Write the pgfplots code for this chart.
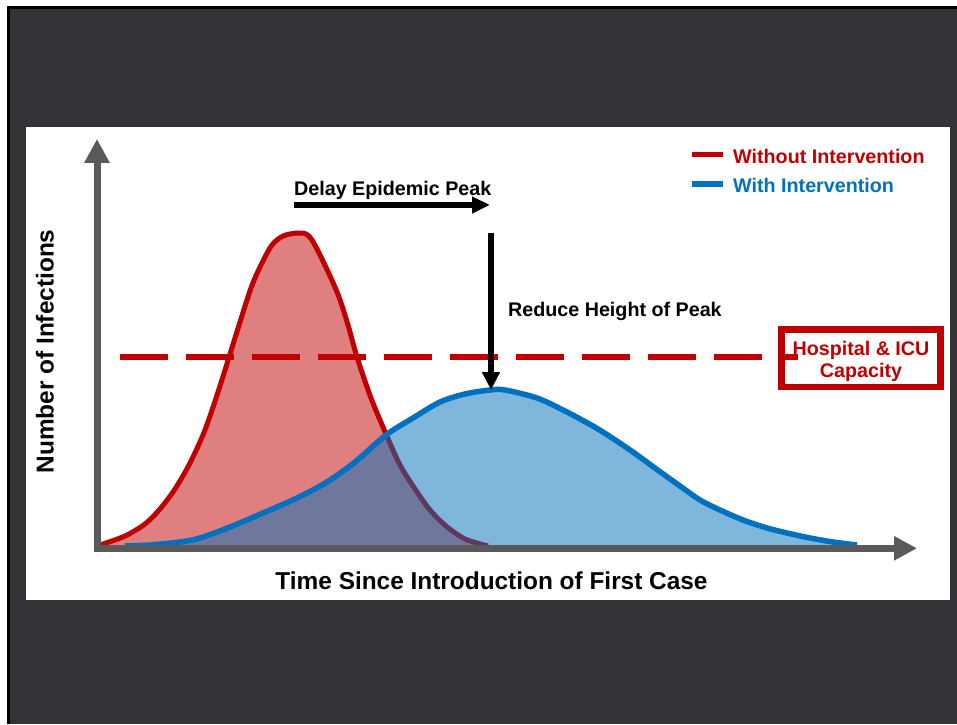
\documentclass[border=0pt]{standalone}
\usepackage{pgfplots}
\pgfplotsset{compat=1.18}
\usetikzlibrary{arrows.meta}
\usepackage{fontspec}
\setmainfont{Liberation Sans}
\definecolor{bgdark}{RGB}{51,51,55}
\definecolor{cred}{RGB}{192,0,0}
\definecolor{cblue}{RGB}{0,112,192}
\definecolor{cbluefill}{RGB}{0,113,186}
\definecolor{axgray}{RGB}{89,89,89}
\newcommand{\anfont}{\bfseries\fontsize{19.7}{23}\selectfont}
\newcommand{\lbfont}{\bfseries\fontsize{24.4}{28}\selectfont}
\begin{document}
\begin{tikzpicture}[x=1pt,y=1pt]
\fill[white] (0,0) rectangle (957,724);
\fill[black] (7,0) rectangle (957,718);
\fill[bgdark] (10,0) rectangle (957,715);
\fill[white] (26,124) rectangle (950,597);
\begin{axis}[at={(0,0)}, anchor=south west, scale only axis,
  width=957pt, height=724pt, xmin=0, xmax=957, ymin=-178, ymax=546,
  hide axis, clip=false]
% Without intervention (fill)
\addplot[draw=none, fill=cred, fill opacity=0.5, smooth, forget plot] coordinates {
(100,1) (125,10) (145,22) (160,37) (175,57) (190,83) (205,116) (220,160) (235,208)
(251,258) (262,283) (272,301) (283,310) (297,313) (306,312) (312,306) (320,291)
(330,270) (339,249) (348,221) (357,189)
(371,148) (386,112) (400,81) (415,57) (430,36) (446,20) (465,7) (488,0)} \closedcycle;
\addplot[cred, line width=5pt, smooth, forget plot] coordinates {
(100,1) (125,10) (145,22) (160,37) (175,57) (190,83) (205,116) (220,160) (235,208)
(251,258) (262,283) (272,301) (283,310) (297,313) (306,312) (312,306) (320,291)
(330,270) (339,249) (348,221) (357,189)
(371,148) (386,112) (400,81) (415,57) (430,36) (446,20) (465,7) (488,0)};
% With intervention
\addplot[draw=none, fill=cbluefill, fill opacity=0.5, smooth, forget plot] coordinates {
(125,0) (150,1) (180,4) (200,8) (230,19) (263,33) (297,48) (327,64) (355,84)
(386,111) (413,128) (440,144) (465,152) (490,156) (505,156) (537,148) (565,135)
(598,117) (630,96) (659,75) (680,60) (700,46) (720,36) (743,26) (767,18) (787,13)
(810,8) (833,4) (857,1)} \closedcycle;
\addplot[cblue, line width=5.5pt, smooth, forget plot] coordinates {
(125,0) (150,1) (180,4) (200,8) (230,19) (263,33) (297,48) (327,64) (355,84)
(386,111) (413,128) (440,144) (465,152) (490,156) (505,156) (537,148) (565,135)
(598,117) (630,96) (659,75) (680,60) (700,46) (720,36) (743,26) (767,18) (787,13)
(810,8) (833,4) (857,1)};
% capacity box
\draw[cred, line width=6.7pt, fill=white] (axis cs:781.7,216.7) rectangle (axis cs:940.7,159);
\addplot[cred, line width=6pt, dash pattern=on 48pt off 18pt, forget plot] coordinates {(120,189) (798,189)};
\node[anchor=base, inner sep=0pt, text=cred, font=\anfont] at (axis cs:861,191) {Hospital \& ICU};
\node[anchor=base, inner sep=0pt, text=cred, font=\anfont] at (axis cs:861,169) {Capacity};
% axes
\draw[axgray, line width=7pt, -{Triangle[width=24pt,length=24pt]}] (axis cs:97,-5.5) -- (axis cs:97,407);
\draw[axgray, line width=6.5pt, -{Triangle[width=23pt,length=23pt]}] (axis cs:93.5,-2.3) -- (axis cs:917,-2.3);
% annotation arrows
\draw[black, line width=5.3pt, -{Triangle[width=16pt,length=18pt]}] (axis cs:294,341) -- (axis cs:490,341);
\draw[black, line width=6pt, -{Triangle[width=17pt,length=18pt]}] (axis cs:491,313) -- (axis cs:491,156);
\node[anchor=base west, inner sep=0pt, font=\anfont] at (axis cs:294,350) {Delay Epidemic Peak};
\node[anchor=base west, inner sep=0pt, font=\anfont] at (axis cs:508,229) {Reduce Height of Peak};
% labels
\node[font=\lbfont, inner sep=0pt] at (axis cs:491.5,-35) {Time Since Introduction of First Case};
\node[font=\lbfont, inner sep=0pt, rotate=90] at (axis cs:45,194.5) {Number of Infections};
% legend
\draw[cred, line width=5.7pt] (axis cs:691.7,391.5) -- (axis cs:723.3,391.5);
\node[anchor=base west, inner sep=0pt, text=cred, font=\anfont] at (axis cs:733,382.7) {Without Intervention};
\draw[cblue, line width=5.7pt] (axis cs:691.7,362.3) -- (axis cs:723.3,362.3);
\node[anchor=base west, inner sep=0pt, text=cblue, font=\anfont] at (axis cs:733,353.7) {With Intervention};
\end{axis}
\pgfresetboundingbox
\path[use as bounding box] (0,0) rectangle (957,724);
\end{tikzpicture}
\end{document}
